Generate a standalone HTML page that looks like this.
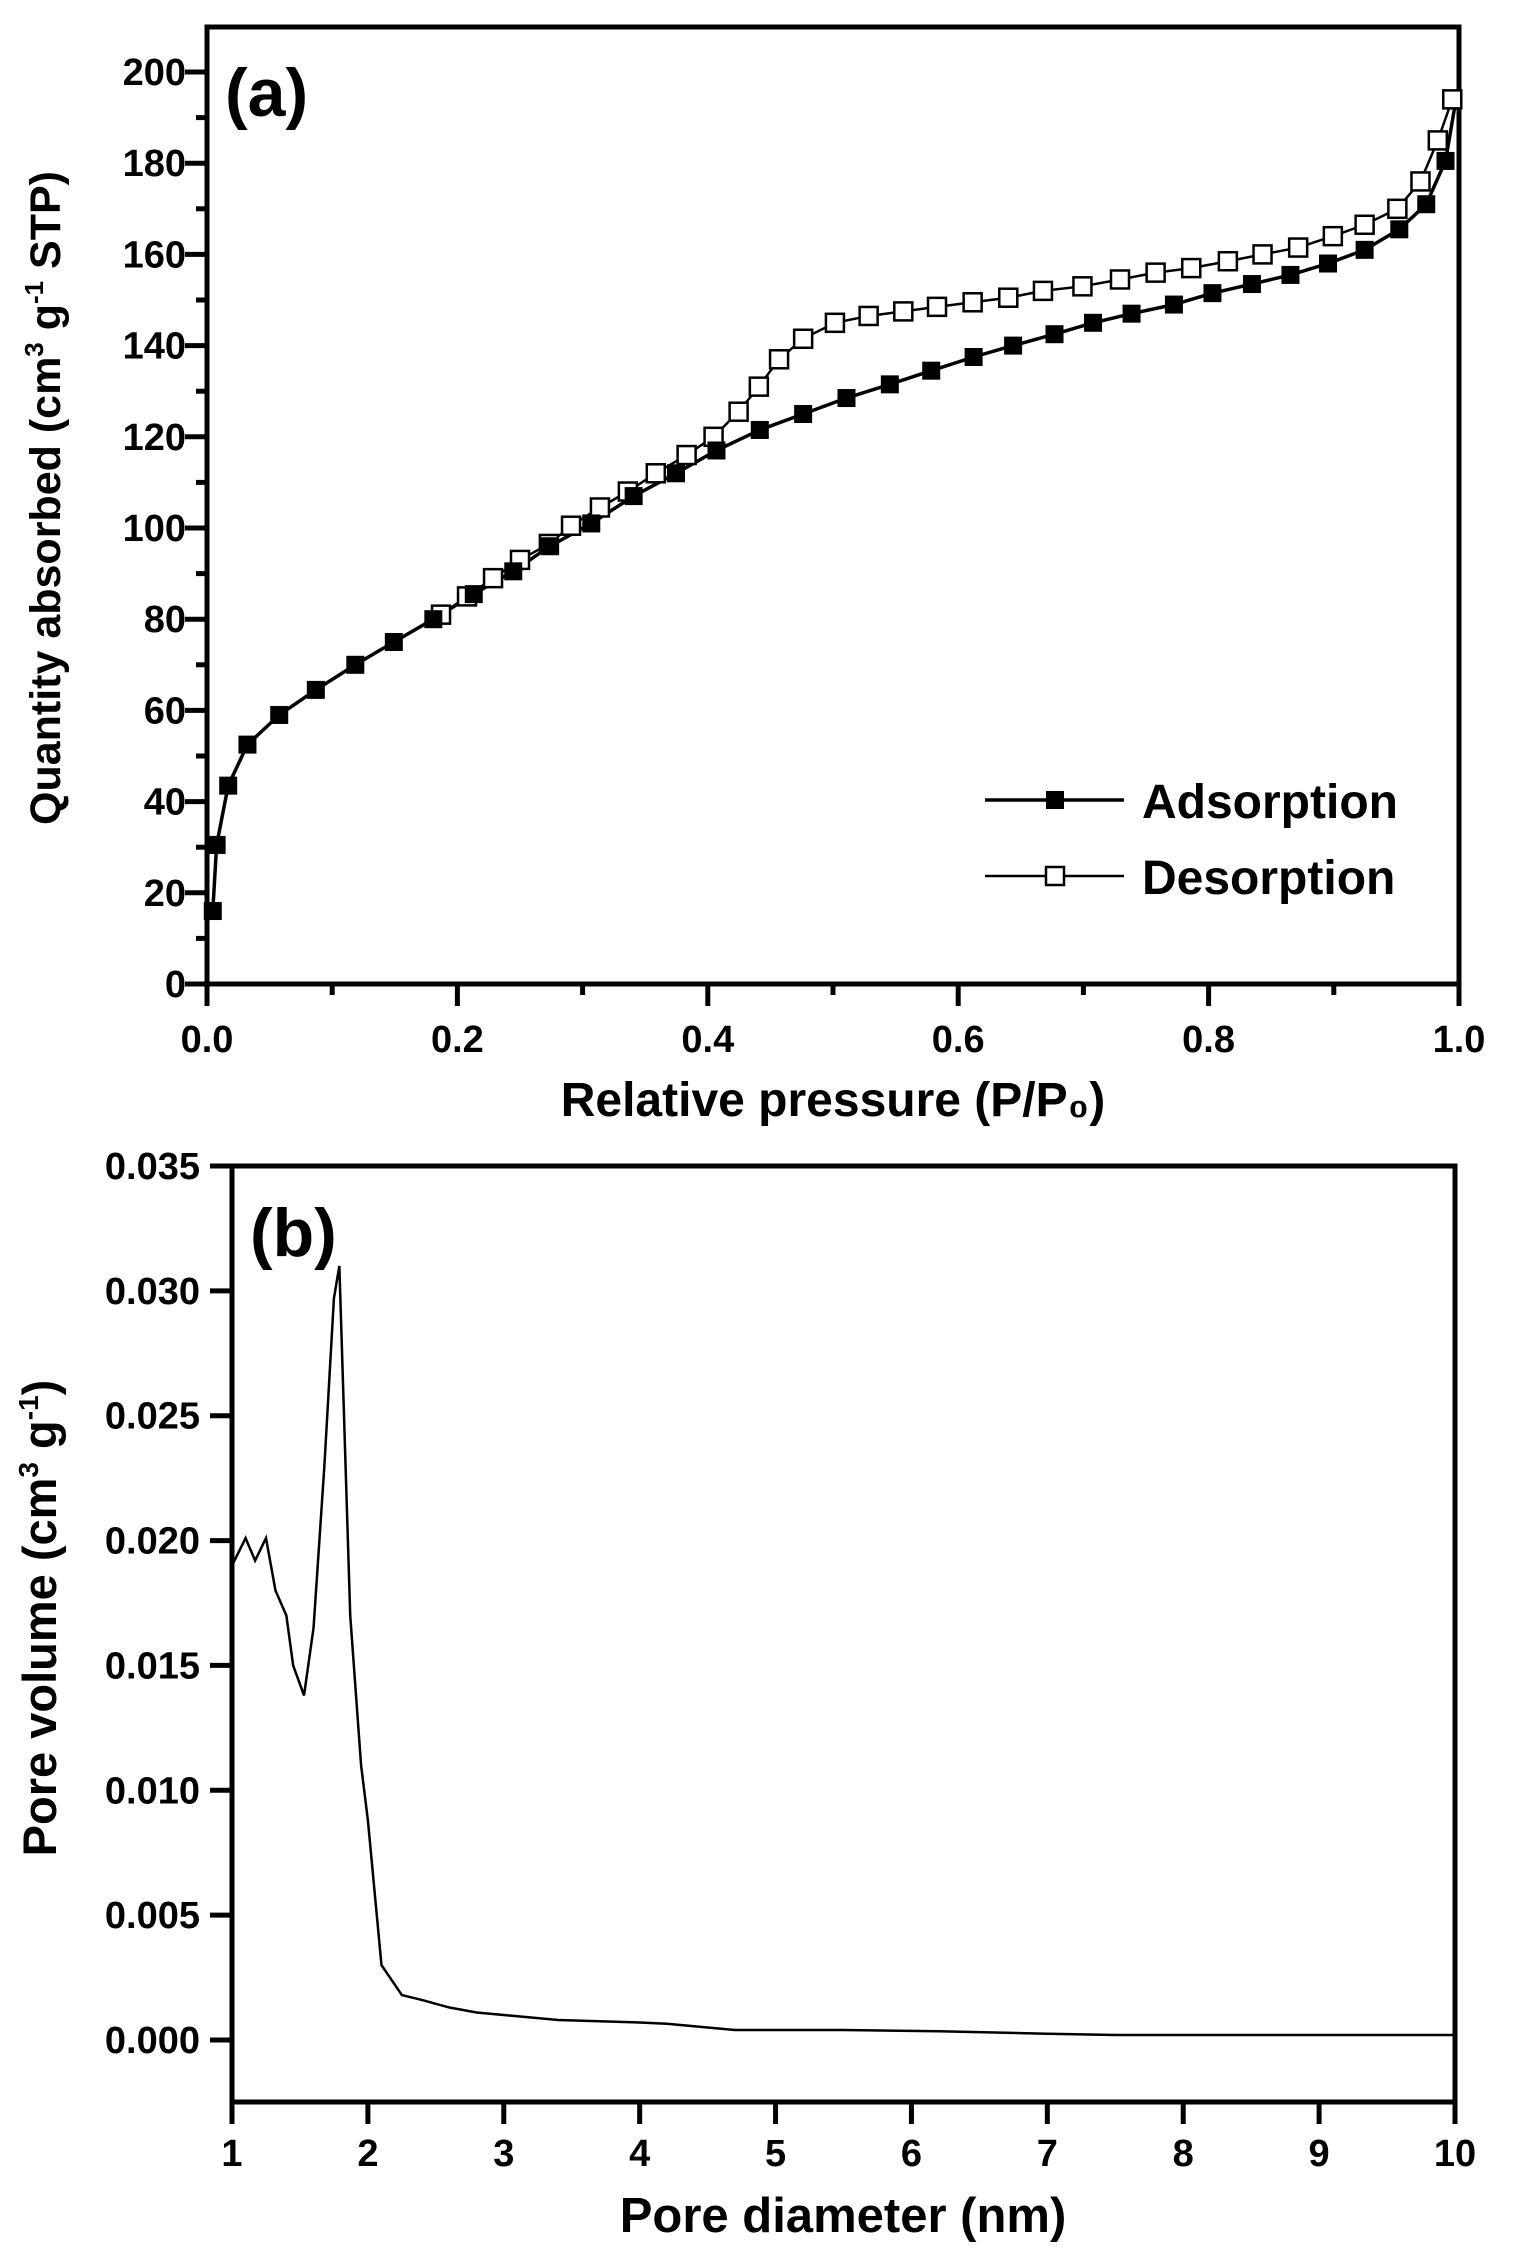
<!DOCTYPE html>
<html><head><meta charset="utf-8"><style>
html,body{margin:0;padding:0;background:#fff}
svg{display:block}
text{font-family:"Liberation Sans",Arial,sans-serif;font-weight:bold;fill:#000}
</style></head><body>
<svg id="s" width="1513" height="2251" viewBox="0 0 1513 2251" xmlns="http://www.w3.org/2000/svg">
<rect width="1513" height="2251" fill="#fff"/>
<g id="g"></g>
</svg>
<script>
var NS="http://www.w3.org/2000/svg",G=document.getElementById("g");
function el(t,a,txt){var e=document.createElementNS(NS,t);for(var k in a)e.setAttribute(k,a[k]);if(txt!==undefined)e.textContent=txt;G.appendChild(e);return e;}
// ---- Chart A ----
var AL=207,AR=1459,AT=27,AB=984;
function ax(x){return AL+x*(AR-AL);} function ay(y){return 984-y*4.56;}
el("rect",{x:AL,y:AT,width:AR-AL,height:AB-AT,fill:"none",stroke:"#000","stroke-width":5});
for(var i=0;i<=10;i++){var x=ax(i/10);el("line",{x1:x,y1:AB,x2:x,y2:AB+(i%2==0?22:11),stroke:"#000","stroke-width":5});}
for(var i=0;i<=5;i++){el("text",{x:ax(i*0.2),y:1052,"text-anchor":"middle","font-size":38},(i*0.2).toFixed(1));}
for(var v=0;v<=200;v+=10){var y=ay(v);el("line",{x1:AL,y1:y,x2:AL-(v%20==0?22:11),y2:y,stroke:"#000","stroke-width":5});if(v%20==0)el("text",{x:186,y:y+13,"text-anchor":"end","font-size":38},v);}
el("text",{x:225,y:116,"font-size":68},"(a)");
el("text",{x:833,y:1116,"text-anchor":"middle","font-size":48},"Relative pressure (P/P\u2080)");
var t=el("text",{transform:"translate(60,498) rotate(-90)","text-anchor":"middle","font-size":43});
t.innerHTML='Quantity absorbed (cm<tspan dy="-17" font-size="26">3</tspan><tspan dy="17"> g</tspan><tspan dy="-17" font-size="26">-1</tspan><tspan dy="17"> STP)</tspan>';
var ads=[[218,16],[222,30.5],[234,43.5],[254,52.5],[287,59],[325,64.5],[366,70],[406,75],[447,80],[489,85.5],[530,90.5],[568,96],[611,101],[655,107],[699,112],[741,117],[786,121.5],[831,125],[876,128.5],[921,131.5],[964,134.5],[1008,137.5],[1049,140],[1092,142.5],[1132,145],[1172,147],[1216,149],[1256,151.5],[1297,153.5],[1337,155.5],[1376,158],[1414,161],[1450,165.5],[1478,171],[1498,180.5]];
var des=[[1505,194],[1490,185],[1472,176],[1448,170],[1414,166.5],[1381,164],[1345,161.5],[1308,160],[1272,158.5],[1234,157],[1197,156],[1160,154.5],[1121,153],[1080,152],[1044,150.5],[1007,149.5],[970,148.5],[935,147.5],[899,146.5],[864,145],[831,141.5],[806,137],[785,131],[764,125.5],[738,120],[710,116],[678,112],[649,108],[620,104.5],[590,100.5],[567,96.5],[537,93],[509,89],[482,85],[455,81]];
function pts(arr){return arr.map(function(p){return [ax((p[0]-212)/1300),ay(p[1])];});}
var A=pts(ads),D=pts(des);
var Aline=A.concat([[ax(0.997),ay(193)]]);
el("polyline",{points:D.map(function(p){return p.join(",")}).join(" "),fill:"none",stroke:"#000","stroke-width":2.5});
el("polyline",{points:Aline.map(function(p){return p.join(",")}).join(" "),fill:"none",stroke:"#000","stroke-width":3.5});
D.forEach(function(p){el("rect",{x:p[0]-9,y:p[1]-9,width:18,height:18,fill:"#fff",stroke:"#000","stroke-width":2.5});});
A.forEach(function(p){el("rect",{x:p[0]-9,y:p[1]-9,width:18,height:18,fill:"#000"});});
el("line",{x1:985,y1:800,x2:1124,y2:800,stroke:"#000","stroke-width":3.5});
el("rect",{x:1046,y:791,width:18,height:18,fill:"#000"});
el("text",{x:1142,y:818,"font-size":48},"Adsorption");
el("line",{x1:985,y1:876,x2:1124,y2:876,stroke:"#000","stroke-width":2.5});
el("rect",{x:1046,y:867,width:18,height:18,fill:"#fff",stroke:"#000","stroke-width":2.5});
el("text",{x:1142,y:894,"font-size":48},"Desorption");
// ---- Chart B ----
var BL=232,BR=1455,BT=1166,BB=2102;
function bx(d){return BL+(d-1)*(BR-BL)/9;} function by(v){return 2040-v*24971;}
el("rect",{x:BL,y:BT,width:BR-BL,height:BB-BT,fill:"none",stroke:"#000","stroke-width":5});
for(var i=1;i<=10;i++){var x=bx(i);el("line",{x1:x,y1:BB,x2:x,y2:BB+22,stroke:"#000","stroke-width":5});el("text",{x:x,y:2166,"text-anchor":"middle","font-size":38},i);}
for(var k=0;k<=7;k++){var v=k*0.005,y=by(v);el("line",{x1:BL,y1:y,x2:BL-22,y2:y,stroke:"#000","stroke-width":5});el("text",{x:200,y:y+13,"text-anchor":"end","font-size":38},v.toFixed(3));}
el("text",{x:250,y:1256,"font-size":68},"(b)");
el("text",{x:843,y:2232,"text-anchor":"middle","font-size":49},"Pore diameter (nm)");
var t2=el("text",{transform:"translate(56,1618) rotate(-90)","text-anchor":"middle","font-size":47});
t2.innerHTML='Pore volume (cm<tspan dy="-18" font-size="28">3</tspan><tspan dy="18"> g</tspan><tspan dy="-18" font-size="28">-1</tspan><tspan dy="18">)</tspan>';
var pb=[[1.0,0.019],[1.1,0.0201],[1.17,0.0192],[1.25,0.0201],[1.32,0.018],[1.4,0.017],[1.45,0.015],[1.53,0.0138],[1.6,0.0165],[1.68,0.023],[1.75,0.0297],[1.79,0.031],[1.87,0.017],[1.95,0.011],[2.0,0.0088],[2.1,0.003],[2.25,0.0018],[2.4,0.0016],[2.6,0.0013],[2.8,0.0011],[3.0,0.001],[3.4,0.0008],[4.0,0.0007],[4.2,0.00065],[4.7,0.0004],[5.5,0.0004],[6.2,0.00035],[7.0,0.00025],[7.5,0.0002],[10,0.0002]];
el("polyline",{points:pb.map(function(p){return bx(p[0])+","+by(p[1]);}).join(" "),fill:"none",stroke:"#000","stroke-width":2.5});
</script>
</body></html>
